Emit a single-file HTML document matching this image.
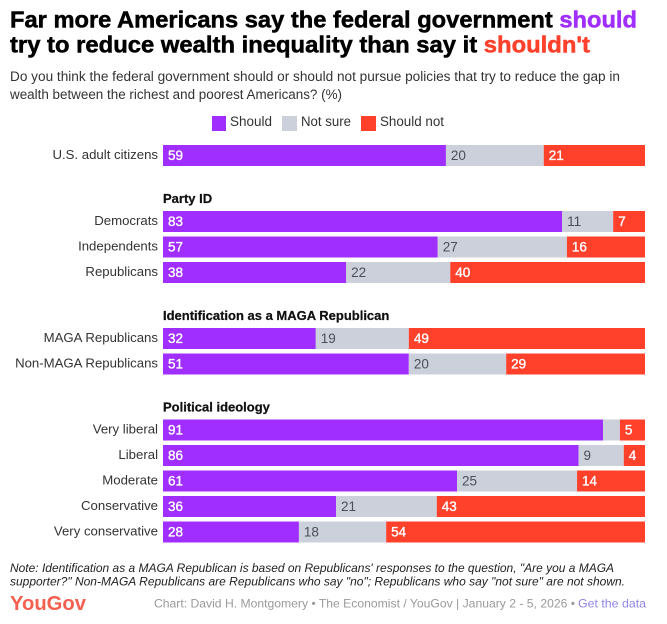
<!DOCTYPE html>
<html lang="en">
<head>
<meta charset="utf-8">
<title>YouGov wealth inequality chart</title>
<style>
html,body{margin:0;padding:0;background:#fff;width:667px;height:624px;overflow:hidden}
svg{display:block;font-family:"Liberation Sans",sans-serif}
</style>
</head>
<body>
<svg id="chart" width="667" height="624" viewBox="0 0 667 624" xmlns="http://www.w3.org/2000/svg">
  <text x="10" y="27.5" font-size="23" font-weight="700" fill="#000" stroke="#000" stroke-width="0.5" textLength="627" lengthAdjust="spacingAndGlyphs">Far more Americans say the federal government <tspan fill="#a02eff" stroke="#a02eff">should</tspan></text>
  <text x="10" y="52.5" font-size="23" font-weight="700" fill="#000" stroke="#000" stroke-width="0.5" textLength="580" lengthAdjust="spacingAndGlyphs">try to reduce wealth inequality than say it <tspan fill="#ff412c" stroke="#ff412c">shouldn't</tspan></text>
  <text x="10" y="81" font-size="13.5" fill="#333" textLength="610" lengthAdjust="spacingAndGlyphs">Do you think the federal government should or should not pursue policies that try to reduce the gap in</text>
  <text x="10" y="99" font-size="13.5" fill="#333" textLength="332" lengthAdjust="spacingAndGlyphs">wealth between the richest and poorest Americans? (%)</text>

  <rect x="212" y="116" width="14" height="15" fill="#a02eff"/>
  <text x="230" y="126" font-size="13.5" fill="#333" textLength="42" lengthAdjust="spacingAndGlyphs">Should</text>
  <rect x="282" y="116" width="15" height="15" fill="#cbd0da"/>
  <text x="301" y="126" font-size="13.5" fill="#333" textLength="50" lengthAdjust="spacingAndGlyphs">Not sure</text>
  <rect x="361" y="116" width="15" height="15" fill="#ff412c"/>
  <text x="380" y="126" font-size="13.5" fill="#333" textLength="64" lengthAdjust="spacingAndGlyphs">Should not</text>

  <g id="plot"></g>

  <text x="10" y="572" font-size="12" font-style="italic" fill="#222" textLength="604" lengthAdjust="spacingAndGlyphs">Note: Identification as a MAGA Republican is based on Republicans' responses to the question, "Are you a MAGA</text>
  <text x="10" y="585.5" font-size="12" font-style="italic" fill="#222" textLength="615" lengthAdjust="spacingAndGlyphs">supporter?" Non-MAGA Republicans are Republicans who say "no"; Republicans who say "not sure" are not shown.</text>
  <text x="10" y="610" font-size="20.5" font-weight="700" fill="#f4604f" textLength="76" lengthAdjust="spacingAndGlyphs">YouGov</text>
  <text x="154" y="607.5" font-size="12" fill="#9a9a9a" textLength="421" lengthAdjust="spacingAndGlyphs">Chart: David H. Montgomery • The Economist / YouGov | January 2 - 5, 2026 •</text>
  <text x="578" y="607.5" font-size="12" fill="#8f84e8" textLength="68" lengthAdjust="spacingAndGlyphs">Get the data</text>
</svg>
<script>
const groupTitles = ["", "Party ID", "Identification as a MAGA Republican", "Political ideology"];
const groupCategories = [
  ["U.S. adult citizens"],
  ["Democrats", "Independents", "Republicans"],
  ["MAGA Republicans", "Non-MAGA Republicans"],
  ["Very liberal", "Liberal", "Moderate", "Conservative", "Very conservative"]
];
const shouldValues = [
  [58.7],
  [82.8, 57.0, 38.0],
  [31.7, 51.0],
  [91.3, 86.2, 61.0, 35.9, 28.2]
];
const notSureValues = [
  [20.3],
  [10.6, 26.8, 21.6],
  [19.3, 20.2],
  [3.5, 9.4, 24.9, 20.9, 18.1]
];
const shouldNotValues = [
  [21.0],
  [6.6, 16.2, 40.4],
  [49.0, 28.8],
  [5.2, 4.4, 14.1, 43.2, 53.7]
];

const NS = "http://www.w3.org/2000/svg";
const plot = document.getElementById("plot");
const x0 = 163, x1 = 645, barH = 21, pitch = 25.5, groupGap = 66, startY = 145;
const xScale = v => x0 + (x1 - x0) * v / 100;
const seriesColors = ["#a02eff", "#cbd0da", "#ff412c"];
const labelColors = ["#fff", "#4a4f57", "#fff"];
const seriesKeys = ["should", "not-sure", "should-not"];

function make(tag, attrs, text) {
  const el = document.createElementNS(NS, tag);
  for (const k in attrs) el.setAttribute(k, attrs[k]);
  if (text !== undefined) el.textContent = text;
  plot.appendChild(el);
  return el;
}

let y = startY;
groupCategories.forEach((cats, g) => {
  if (groupTitles[g]) {
    const head = make("text", {x: x0, y: y - 8, "font-size": 13, "font-weight": 700, fill: "#111", stroke: "#111", "stroke-width": 0.25}, groupTitles[g]);
    
    
  }
  cats.forEach((cat, i) => {
    const rowY = y + i * pitch;
    const lab = make("text", {x: 158, y: rowY + 14, "text-anchor": "end", "font-size": 13.2, fill: "#333"}, cat);
    
    
    const vals = [shouldValues[g][i], notSureValues[g][i], shouldNotValues[g][i]];
    let cum = 0;
    vals.forEach((v, s) => {
      const left = xScale(cum);
      const right = xScale(cum + v);
      const bar = make("rect", {x: left, y: rowY, width: right - left, height: barH, fill: seriesColors[s]});
      
      
      if (v >= 4) {
        const attrs = {x: left + 5, y: rowY + 15, "font-size": 13.5, fill: labelColors[s]};
        if (s !== 1) {
          attrs.stroke = labelColors[s];
          attrs["stroke-width"] = 0.35;
        }
        const val = make("text", attrs, String(Math.round(v)));
        
        
      }
      cum += v;
    });
  });
  y += (cats.length - 1) * pitch + groupGap;
});
</script>
</body>
</html>
